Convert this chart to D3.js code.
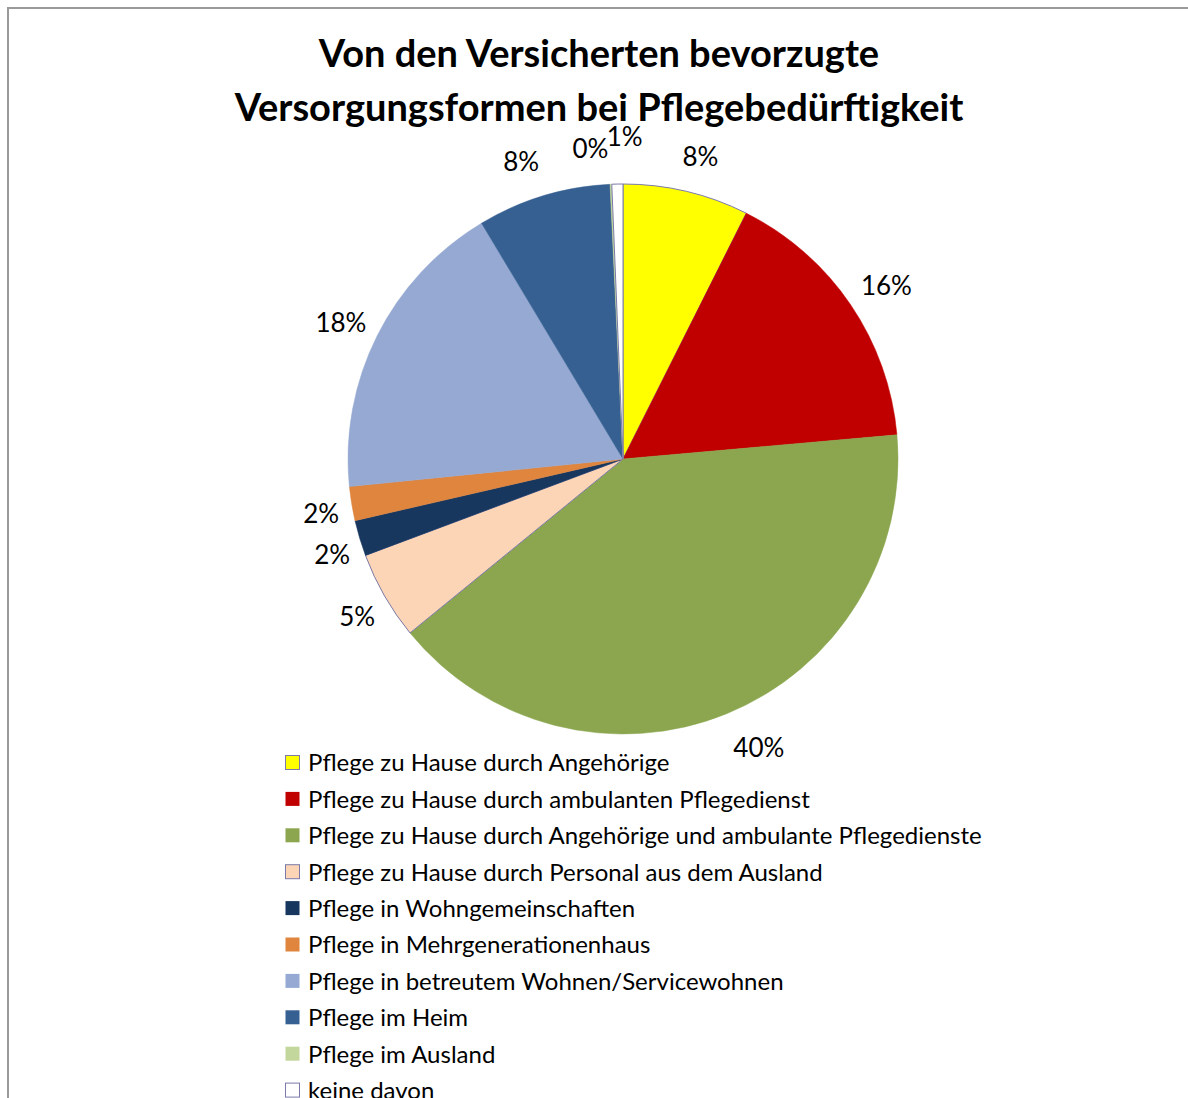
<!DOCTYPE html>
<html>
<head>
<meta charset="utf-8">
<script src="https://cdn.jsdelivr.net/npm/d3@7"></script>
<style>
  html, body { margin: 0; padding: 0; background: #fff; }
  svg { display: block; }
</style>
</head>
<body>
<div id="chart"></div>
<script>
// ── Data ──
const TITLE_LINES = ['Von den Versicherten bevorzugte', 'Versorgungsformen bei Pflegebedürftigkeit'];

const categories = [
    'Pflege zu Hause durch Angehörige',
    'Pflege zu Hause durch ambulanten Pflegedienst',
    'Pflege zu Hause durch Angehörige und ambulante Pflegedienste',
    'Pflege zu Hause durch Personal aus dem Ausland',
    'Pflege in Wohngemeinschaften',
    'Pflege in Mehrgenerationenhaus',
    'Pflege in betreutem Wohnen/Servicewohnen',
    'Pflege im Heim',
    'Pflege im Ausland',
    'keine davon',
];
const shares = [7.4, 16.2, 40.5, 5.2, 2.1, 2.0, 18.0, 7.85, 0.1, 0.65];
const labels = ['8%', '16%', '40%', '5%', '2%', '2%', '18%', '8%', '0%', '1%'];

const colors = ['#ffff00', '#c00000', '#8ba64e', '#fbd5b5', '#17375e', '#df853e', '#95a9d2', '#376092', '#c3d69b', '#ffffff'];
// light slices get the thin purple-grey outline
const outlined = [true, false, false, true, false, false, false, false, false, true];
// small nudges for crowded labels near the top
const labelNudge = [[6, 0], [7, 1], [19, 2], [3, 3], [6, 7], [4, 4], [-5, 3], [-12, 0], [-19, 0], [8, -12]];

const FONT = "Lato, 'Open Sans', sans-serif";

// ── Layout ──
const width = 1188, height = 1098;
const cx = 623, cy = 459, radius = 275, labelR = 310;

const svg = d3.select('#chart').append('svg')
    .attr('width', width)
    .attr('height', height);

// frame
svg.append('path')
    .attr('d', `M8,${height} V8 H${width}`)
    .attr('fill', 'none')
    .attr('stroke', '#9a9a9a')
    .attr('stroke-width', 2);

// title
svg.append('g').selectAll('text')
    .data(TITLE_LINES)
    .join('text')
    .attr('x', 599)
    .attr('y', (d, i) => 67 + i * 54)
    .attr('text-anchor', 'middle')
    .attr('font-family', FONT)
    .attr('font-weight', 'bold')
    .attr('font-size', '38px')
    .attr('fill', '#000')
    .text(d => d);

// ── Pie ──
const data = categories.map((c, i) => ({ name: c, value: shares[i], i }));
const pie = d3.pie().sort(null).value(d => d.value);
const arcs = pie(data);
const arc = d3.arc().innerRadius(0).outerRadius(radius);
const labelArc = d3.arc().innerRadius(labelR).outerRadius(labelR);

const g = svg.append('g').attr('transform', `translate(${cx},${cy})`);

g.selectAll('path')
    .data(arcs)
    .join('path')
    .attr('d', arc)
    .attr('fill', d => colors[d.data.i])
    .attr('stroke', d => outlined[d.data.i] ? '#7b7aab' : colors[d.data.i])
    .attr('stroke-width', d => outlined[d.data.i] ? 1 : 0.5);

g.selectAll('text')
    .data(arcs)
    .join('text')
    .attr('transform', d => {
        const [x, y] = labelArc.centroid(d);
        const [nx, ny] = labelNudge[d.data.i];
        return `translate(${x + nx},${y + ny})`;
    })
    .attr('text-anchor', 'middle')
    .attr('dy', '0.35em')
    .attr('font-family', FONT)
    .attr('font-size', '26px')
    .attr('fill', '#000')
    .text(d => labels[d.data.i]);

// ── Legend ──
const legend = svg.append('g').attr('transform', 'translate(285, 763)');
const row = legend.selectAll('g')
    .data(categories)
    .join('g')
    .attr('transform', (d, i) => `translate(0, ${i * 36.4})`);

row.append('rect')
    .attr('x', 0.5)
    .attr('y', -7.5)
    .attr('width', 14)
    .attr('height', 14)
    .attr('fill', (d, i) => colors[i])
    .attr('stroke', (d, i) => outlined[i] ? '#7b7aab' : 'none')
    .attr('stroke-width', 1);

row.append('text')
    .attr('x', 23)
    .attr('dy', '0.35em')
    .attr('font-family', FONT)
    .attr('font-size', '24px')
    .attr('fill', '#000')
    .text(d => d);
</script>
</body>
</html>
